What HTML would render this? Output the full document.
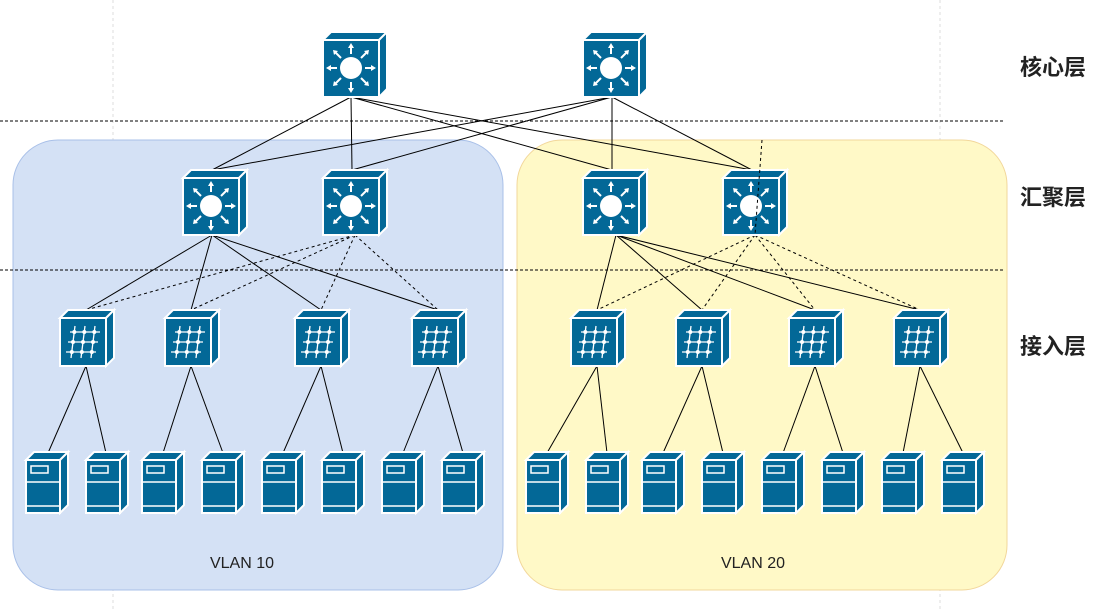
<!DOCTYPE html>
<html><head><meta charset="utf-8"><style>
body{margin:0;width:1117px;height:610px;background:#fff;overflow:hidden;font-family:"Liberation Sans","Noto Sans CJK SC",sans-serif}
</style></head><body>
<svg width="1117" height="610" xmlns="http://www.w3.org/2000/svg">
<defs>
<g id="core">
<polygon points="0,8 8,0 64,0 56,8" fill="#036897" stroke="#fff" stroke-width="2"/>
<polygon points="56,8 64,0 64,57 56,65" fill="#036897" stroke="#fff" stroke-width="2"/>
<rect x="0" y="8" width="56" height="57" fill="#036897" stroke="#fff" stroke-width="2"/>
<circle cx="28" cy="36" r="11" fill="#fff"/>
<g stroke="#fff" stroke-width="2">
<line x1="28" y1="22" x2="28" y2="14"/><line x1="28" y1="50" x2="28" y2="58"/>
<line x1="14" y1="36" x2="6" y2="36"/><line x1="42" y1="36" x2="50" y2="36"/>
<line x1="18" y1="26" x2="12" y2="20"/><line x1="38" y1="26" x2="44" y2="20"/>
<line x1="18" y1="46" x2="12" y2="52"/><line x1="38" y1="46" x2="44" y2="52"/>
</g>
<g fill="#fff">
<polygon points="28,11 25,16 31,16"/><polygon points="28,61 25,56 31,56"/>
<polygon points="3,36 8,33 8,39"/><polygon points="53,36 48,33 48,39"/>
<polygon points="10,18 11,23 15,19"/><polygon points="46,18 41,19 45,23"/>
<polygon points="10,54 15,53 11,49"/><polygon points="46,54 45,49 41,53"/>
</g>
</g>
<g id="acc">
<polygon points="0,8 8,0 54,0 46,8" fill="#036897" stroke="#fff" stroke-width="2"/>
<polygon points="46,8 54,0 54,48 46,56" fill="#036897" stroke="#fff" stroke-width="2"/>
<rect x="0" y="8" width="46" height="48" fill="#036897" stroke="#fff" stroke-width="2"/>
<g stroke="#fff" stroke-width="1.3">
<line x1="10" y1="22" x2="40" y2="22"/><line x1="8" y1="32" x2="38" y2="32"/><line x1="6" y1="42" x2="36" y2="42"/>
<line x1="15" y1="16" x2="11" y2="48"/><line x1="25" y1="16" x2="21" y2="48"/><line x1="35" y1="16" x2="31" y2="48"/>
</g>
<g fill="#fff">
<circle cx="14.3" cy="22" r="2"/><circle cx="24.3" cy="22" r="2"/><circle cx="34.3" cy="22" r="2"/>
<circle cx="13" cy="32" r="2"/><circle cx="23" cy="32" r="2"/><circle cx="33" cy="32" r="2"/>
<circle cx="11.8" cy="42" r="2"/><circle cx="21.8" cy="42" r="2"/><circle cx="31.8" cy="42" r="2"/>
</g>
</g>
<g id="srv">
<polygon points="0,8 8,0 42,0 34,8" fill="#036897" stroke="#fff" stroke-width="2"/>
<polygon points="34,8 42,0 42,53 34,61" fill="#036897" stroke="#fff" stroke-width="2"/>
<rect x="0" y="8" width="34" height="53" fill="#036897" stroke="#fff" stroke-width="2"/>
<rect x="5" y="14" width="17" height="7" fill="none" stroke="#fff" stroke-width="1.5"/>
<line x1="1" y1="30" x2="33" y2="30" stroke="#fff" stroke-width="1.5"/>
<line x1="1" y1="54" x2="33" y2="54" stroke="#fff" stroke-width="1.5"/>
</g>
</defs>
<line x1="113" y1="0" x2="113" y2="610" stroke="#ddd" stroke-dasharray="3,3"/>
<line x1="940" y1="0" x2="940" y2="610" stroke="#ddd" stroke-dasharray="3,3"/>
<rect x="13" y="140" width="490" height="450" rx="45" fill="#d4e1f5" stroke="#a9c0e8"/>
<rect x="517" y="140" width="490" height="450" rx="45" fill="#fff9c7" stroke="#f2d79b"/>
<line x1="0" y1="121" x2="1003" y2="121" stroke="#000" stroke-dasharray="3,2"/>
<line x1="0" y1="270" x2="1003" y2="270" stroke="#000" stroke-dasharray="3,2"/>
<g stroke="#000" stroke-width="1">
<line x1="351" y1="97" x2="212" y2="170"/><line x1="351" y1="97" x2="352" y2="170"/><line x1="351" y1="97" x2="612" y2="170"/><line x1="351" y1="97" x2="752" y2="170"/>
<line x1="612" y1="97" x2="212" y2="170"/><line x1="612" y1="97" x2="352" y2="170"/><line x1="612" y1="97" x2="612" y2="170"/><line x1="612" y1="97" x2="752" y2="170"/>
<line x1="212" y1="235" x2="86" y2="310"/><line x1="212" y1="235" x2="191" y2="310"/><line x1="212" y1="235" x2="321" y2="310"/><line x1="212" y1="235" x2="438" y2="310"/>
<line x1="616" y1="235" x2="597" y2="310"/><line x1="616" y1="235" x2="702" y2="310"/><line x1="616" y1="235" x2="815" y2="310"/><line x1="616" y1="235" x2="920" y2="310"/>
</g>
<g stroke="#000" stroke-dasharray="3,3">
<line x1="355" y1="235" x2="86" y2="310"/><line x1="355" y1="235" x2="191" y2="310"/><line x1="355" y1="235" x2="321" y2="310"/><line x1="355" y1="235" x2="438" y2="310"/>
<line x1="755" y1="235" x2="597" y2="310"/><line x1="755" y1="235" x2="702" y2="310"/><line x1="755" y1="235" x2="815" y2="310"/><line x1="755" y1="235" x2="920" y2="310"/>
</g>
<g stroke="#000">
<line x1="86" y1="366" x2="48" y2="453"/><line x1="86" y1="366" x2="106" y2="453"/>
<line x1="191" y1="366" x2="163" y2="453"/><line x1="191" y1="366" x2="223" y2="453"/>
<line x1="321" y1="366" x2="283" y2="453"/><line x1="321" y1="366" x2="343" y2="453"/>
<line x1="438" y1="366" x2="403" y2="453"/><line x1="438" y1="366" x2="463" y2="453"/>
<line x1="597" y1="366" x2="547" y2="453"/><line x1="597" y1="366" x2="607" y2="453"/>
<line x1="702" y1="366" x2="663" y2="453"/><line x1="702" y1="366" x2="723" y2="453"/>
<line x1="815" y1="366" x2="783" y2="453"/><line x1="815" y1="366" x2="843" y2="453"/>
<line x1="920" y1="366" x2="903" y2="453"/><line x1="920" y1="366" x2="963" y2="453"/>
</g>
<use href="#core" x="323" y="32"/><use href="#core" x="583" y="32"/>
<use href="#core" x="183" y="170"/><use href="#core" x="323" y="170"/><use href="#core" x="583" y="170"/><use href="#core" x="723" y="170"/>
<line x1="762" y1="140" x2="755" y2="235" stroke="#000" stroke-dasharray="3,3"/>
<use href="#acc" x="60" y="310"/><use href="#acc" x="165" y="310"/><use href="#acc" x="295" y="310"/><use href="#acc" x="412" y="310"/>
<use href="#acc" x="571" y="310"/><use href="#acc" x="676" y="310"/><use href="#acc" x="789" y="310"/><use href="#acc" x="894" y="310"/>
<use href="#srv" x="26" y="452"/><use href="#srv" x="86" y="452"/><use href="#srv" x="142" y="452"/><use href="#srv" x="202" y="452"/>
<use href="#srv" x="262" y="452"/><use href="#srv" x="322" y="452"/><use href="#srv" x="382" y="452"/><use href="#srv" x="442" y="452"/>
<use href="#srv" x="526" y="452"/><use href="#srv" x="586" y="452"/><use href="#srv" x="642" y="452"/><use href="#srv" x="702" y="452"/>
<use href="#srv" x="762" y="452"/><use href="#srv" x="822" y="452"/><use href="#srv" x="882" y="452"/><use href="#srv" x="942" y="452"/>
<g font-size="22" font-weight="bold" fill="#222" font-family="'Liberation Sans','Noto Sans CJK SC',sans-serif">
<text x="1020" y="75">核心层</text><text x="1020" y="205">汇聚层</text><text x="1020" y="354">接入层</text>
</g>
<g font-size="16" fill="#222" text-anchor="middle" font-family="'Liberation Sans',sans-serif">
<text x="242" y="568">VLAN 10</text><text x="753" y="568">VLAN 20</text>
</g>
</svg>
</body></html>
